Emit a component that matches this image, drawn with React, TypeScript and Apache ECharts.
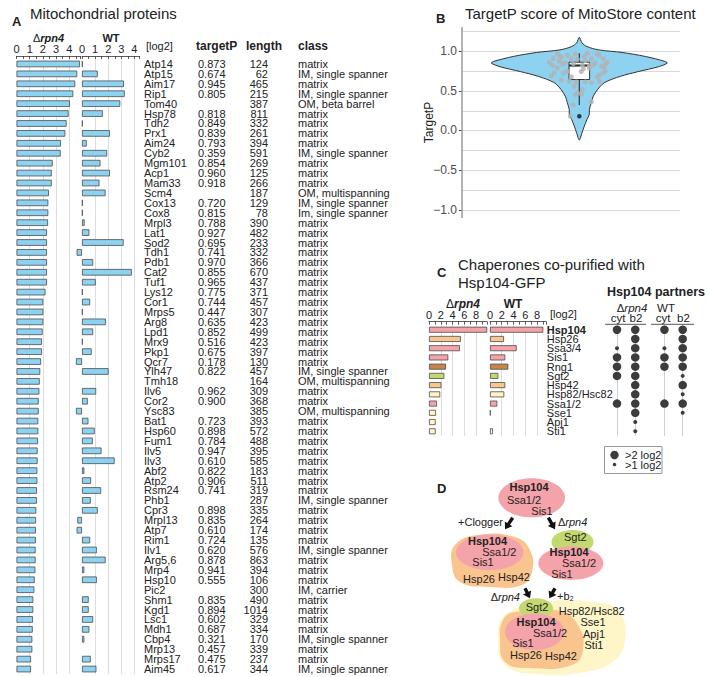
import React, { useEffect, useRef } from 'react';
import * as echarts from 'echarts';

const FONT = '"Liberation Sans", Arial, Helvetica, sans-serif';
const TEXT = '#222222';
const BLUE = '#8DD2F1';
const EDGE = '#4d4d4d';

// ---------- Panel A data ----------
const proteins = ['Atp14','Atp15','Aim17','Rip1','Tom40','Hsp78','Tdh2','Prx1','Aim24','Cyb2','Mgm101','Acp1','Mam33','Scm4','Cox13','Cox8','Mrpl3','Lat1','Sod2','Tdh1','Pdb1','Cat2','Tuf1','Lys12','Cor1','Mrps5','Arg8','Lpd1','Mrx9','Pkp1','Qcr7','Ylh47','Tmh18','Ilv6','Cor2','Ysc83','Bat1','Hsp60','Fum1','Ilv5','Ilv3','Abf2','Atp2','Rsm24','Phb1','Cpr3','Mrpl13','Atp7','Rim1','Ilv1','Arg5,6','Mrp4','Hsp10','Pic2','Shm1','Kgd1','Lsc1','Mdh1','Cbp4','Mrp13','Mrps17','Aim45'];
const rpn4Log2 = [4.81,4.6,4.45,4.3,4.05,3.95,3.8,3.7,3.37,3.35,2.74,2.67,2.67,2.46,2.41,2.41,2.39,2.31,2.31,2.31,2.31,2.31,2.31,2.2,2.03,2.03,2.03,1.98,1.93,1.93,1.86,1.8,1.76,1.73,1.68,1.68,1.65,1.65,1.63,1.6,1.6,1.58,1.58,1.55,1.55,1.5,1.48,1.47,1.46,1.45,1.45,1.43,1.38,1.35,1.27,1.27,1.25,1.23,1.2,1.2,1.1,1.1];
const wtLog2 = [0.05,1.2,3.2,3.26,2.92,1.59,0.05,2.13,0.36,1.92,1.41,2.13,1.33,1.8,0.05,0.05,0.2,0.56,3.18,-0.41,0.85,3.8,1.05,0.05,0.62,0.05,1.82,0.85,0.05,0.74,-0.46,2.03,null,1.08,0.44,-0.46,0.49,0.97,0.82,1.49,2.49,0.18,0.69,1.46,0.67,1.2,-0.36,-0.41,0.62,1.13,1.8,0.18,1.13,null,0.51,0.51,0.85,0.56,0.18,null,0.67,1.1];
const targetP = [0.873,0.674,0.945,0.805,null,0.818,0.849,0.839,0.793,0.359,0.854,0.960,0.918,null,0.720,0.815,0.788,0.927,0.695,0.741,0.970,0.855,0.965,0.775,0.744,0.447,0.635,0.852,0.516,0.675,0.178,0.822,null,0.962,0.900,null,0.723,0.898,0.784,0.947,0.610,0.822,0.906,0.741,null,0.898,0.835,0.610,0.724,0.620,0.878,0.941,0.555,null,0.835,0.894,0.602,0.687,0.321,0.457,0.475,0.617];
const proteinLength = [124,62,465,215,387,811,332,261,394,591,269,125,266,187,129,78,390,482,233,332,366,670,437,371,457,307,423,499,423,397,130,457,164,309,368,385,393,572,488,395,585,183,511,319,287,335,264,174,135,576,863,394,106,300,490,1014,329,334,170,339,237,344];
const M = 'matrix';
const S = 'IM, single spanner';
const OMM = 'OM, multispanning';
const proteinClass = [M,S,M,S,'OM, beta barrel',M,M,M,M,S,M,M,M,OMM,S,'Im, single spanner',
  M,M,M,M,M,M,M,M,M,M,M,M,M,M,M,S,OMM,M,M,OMM,M,M,M,M,M,M,M,M,S,M,M,M,M,S,M,M,M,'IM, carrier',M,M,M,M,S,M,M,S];
// horizontal jitter of the points in panel B (one per protein)
const jitterX = [-20,-8,-12,22,null,-27,16,-6,25,12,28,-4,-18,null,-16,10,-22,5,20,-12,8,-30,-22,4,26,-4,-18,-14,3,18,-9,14,null,18,24,null,-25,-8,10,20,-3,3,-26,2,null,12,-17,6,24,-10,6,-20,-5,null,26,-2,12,-28,-6,2,-2,20];
const aGridValues = [1, 2, 3, 4];

// ---------- Panel B data ----------
const violinY = [1.17,1.10,1.054,1.0125,0.98,0.93,0.866,0.846,0.80,0.74,0.68,0.60,0.51,0.43,0.35,0.26,0.20,0.14,0.054,-0.03,-0.12];
const violinHalfWidth = [0,2.7,7.7,19.3,42.7,66,86,88,79,59,41,25,18,14,12,10,10,7.7,5,2.7,0];
const boxStats = [0.321, 0.64, 0.816, 0.858, 0.97];
const outlierValues = [0.178];
const bGridValues = [-1,-0.75,-0.5,-0.25,0,0.25,0.5,0.75,1,1.25];
const bTickValues = [-1,-0.5,0,0.5,1];
const bTickLabels = ['\u22121.0','\u22120.5','0.0','0.5','1.0'];

// ---------- Panel C data ----------
const chaperones = ['Hsp104','Hsp26','Ssa3/4','Sis1','Rng1','Sgt2','Hsp42','Hsp82/Hsc82','Ssa1/2','Sse1','Apj1','Sti1'];
const chapRpn4 = [9.9,5.4,5.25,3.27,2.88,2.6,2.1,1.9,1.36,1.19,1.13,1.13];
const chapWT = [9.07,2.38,4.54,2.6,3.12,1.42,2.6,2.43,1.25,0.1,null,0.5];
const chapGroup = ['hsp70','shsp','hsp70','hsp70','rng','sgt','shsp','hsp90','hsp70','hsp90','hsp90','hsp90'];
const groupColor: Record<string,string> = { hsp70: '#F5A3AA', shsp: '#F9C68F', rng: '#C8854A', sgt: '#C2D96F', hsp90: '#FFF5C4' };
const cGridValues = [2, 4, 6, 8];
const partnerRpn4Cyt = [2,0,1,2,2,2,0,0,2,0,0,0];
const partnerRpn4B2 = [2,2,2,2,2,2,2,2,2,2,1,1];
const partnerWtCyt = [2,0,1,2,2,0,0,0,2,0,0,0];
const partnerWtB2 = [2,2,2,2,2,1,2,1,2,1,0,0];
const partnerColumns = [partnerRpn4Cyt, partnerRpn4B2, partnerWtCyt, partnerWtB2];
const PARTNER_X = [0, 1, 2.6, 3.6];

function txt(x: number, y: number, text: string, o: any = {}) {
  const size = o.size ?? 11;
  return {
    type: 'text', x, y, silent: true,
    style: {
      text, fontFamily: FONT, fontSize: size, lineHeight: o.lh ?? size,
      fontWeight: o.bold ? 'bold' : 'normal', fontStyle: o.italic ? 'italic' : 'normal',
      fill: o.color ?? TEXT, align: o.align ?? 'left', textAlign: o.align ?? 'left',
      verticalAlign: 'middle', textVerticalAlign: 'middle', rich: o.rich,
    },
  };
}
function deltaRich(size: number, boldItalic: boolean) {
  return {
    d: { fontFamily: FONT, fontSize: size, lineHeight: size, fill: TEXT },
    i: { fontFamily: FONT, fontSize: size, lineHeight: size, fill: TEXT, fontStyle: 'italic', fontWeight: boldItalic ? 'bold' : 'normal' },
  };
}
function arrow(x1: number, y1: number, x2: number, y2: number) {
  const dx = x2 - x1, dy = y2 - y1;
  const L = Math.sqrt(dx * dx + dy * dy);
  const ux = dx / L, uy = dy / L, px = -uy, py = ux;
  const h = 6.5, hw = 4.5, sw = 1.7;
  const nx = x2 - ux * h, ny = y2 - uy * h;
  const pts = [
    [x1 + px * sw, y1 + py * sw], [nx + px * sw, ny + py * sw], [nx + px * hw, ny + py * hw],
    [x2, y2], [nx - px * hw, ny - py * hw], [nx - px * sw, ny - py * sw], [x1 - px * sw, y1 - py * sw],
  ];
  return { type: 'polygon', silent: true, shape: { points: pts }, style: { fill: '#111' } };
}
const ell = (cx: number, cy: number, rx: number, ry: number, fill: string) =>
  ({ type: 'ellipse', silent: true, shape: { cx, cy, rx, ry }, style: { fill } });
const blob = (points: number[][], fill: string) =>
  ({ type: 'polygon', silent: true, shape: { points, smooth: 0.45 }, style: { fill } });

const gridLineMark = (key: 'xAxis' | 'yAxis', values: number[], color: string) => ({
  silent: true, symbol: 'none', z: 1, animation: false,
  label: { show: false }, emphasis: { disabled: true },
  lineStyle: { color, width: 1, type: 'solid' },
  data: values.map((v) => ({ [key]: v })),
});

export default function App() {
  const ref = useRef<HTMLDivElement>(null);
  useEffect(() => {
    if (!ref.current) return;
    const chart = echarts.init(ref.current, null, { renderer: 'svg' });
    const baseGrid = { containLabel: false, outerBoundsMode: 'none' };
    const axisLbl = { fontFamily: FONT, fontSize: 11, color: TEXT, lineHeight: 9.5 };
    const intOnly = (max: number) => (v: number) =>
      Math.abs(v - Math.round(v)) < 1e-6 && v <= max + 1e-6 ? String(Math.round(v)) : '';
    const evenOnly = (v: number) =>
      Math.abs(v - Math.round(v)) < 1e-6 && Math.round(v) % 2 === 0 && v <= 8 ? String(Math.round(v)) : '';
    const topAxis = (gridIndex: number, min: number, max: number, interval: number, fmt: any, offset: number) => ({
      type: 'value', gridIndex, min, max, interval, position: 'top', offset,
      axisLine: { show: true, onZero: false, lineStyle: { color: '#333', width: 0.8 } },
      axisTick: { show: true, inside: true, length: 3, lineStyle: { color: '#333', width: 0.8 } },
      axisLabel: { ...axisLbl, lineHeight: 10, margin: 2, formatter: fmt },
      splitLine: { show: false },
    });
    const hiddenVal = (gridIndex: number, min: number, max: number) => ({
      type: 'value', gridIndex, min, max, show: false, axisLine: { onZero: false }, splitLine: { show: false },
    });
    const hiddenCat = (gridIndex: number, data: string[]) => ({
      type: 'category', gridIndex, data, inverse: true, show: false, axisLine: { onZero: false },
    });
    const idx = (v: string) => proteins.indexOf(v);
    const colAxis = (offset: number, margin: number, align: string, fmt: any) => ({
      type: 'category', gridIndex: 1, data: proteins, inverse: true, position: 'right', offset,
      axisLine: { show: false, onZero: false }, axisTick: { show: false }, splitLine: { show: false },
      axisLabel: { ...axisLbl, show: true, interval: 0, margin, align, formatter: fmt },
    });

    const bPoints: number[][] = [];
    targetP.forEach((t, i) => { if (t != null && jitterX[i] != null) bPoints.push([jitterX[i] as number, t]); });

    const dots: any[] = [];
    partnerColumns.forEach((col, c) => col.forEach((lvl, r) => { if (lvl > 0) dots.push([PARTNER_X[c], chaperones[r], lvl]); }));

    const graphic: any[] = [
      // Panel A
      txt(12, 21, 'A', { bold: true, size: 13 }),
      txt(30, 13, 'Mitochondrial proteins', { size: 15 }),
      txt(48.5, 38, '{d|Δ}{i|rpn4}', { align: 'center', rich: deltaRich(11, true) }),
      txt(111, 38, 'WT', { bold: true, align: 'center' }),
      txt(146, 46, '[log2]'),
      txt(196, 46, 'targetP', { bold: true, size: 12 }),
      txt(246, 46, 'length', { bold: true, size: 12 }),
      txt(298, 46, 'class', { bold: true, size: 12 }),
      // Panel B
      txt(436, 18, 'B', { bold: true, size: 13 }),
      txt(465, 13, 'TargetP score of MitoStore content', { size: 15 }),
      // Panel C
      txt(437, 272, 'C', { bold: true, size: 13 }),
      txt(458, 264, 'Chaperones co-purified with', { size: 15 }),
      txt(458, 282, 'Hsp104-GFP', { size: 15 }),
      txt(463, 303.5, '{d|Δ}{i|rpn4}', { align: 'center', rich: deltaRich(12, true) }),
      txt(513, 303.5, 'WT', { bold: true, size: 12, align: 'center' }),
      txt(550, 314, '[log2]', { lh: 10 }),
      txt(607, 292, 'Hsp104 partners', { bold: true, size: 12.5 }),
      txt(632, 308, '{d|Δ}{i|rpn4}', { align: 'center', rich: deltaRich(11.5, false) }),
      txt(666, 308, 'WT', { size: 11.5, align: 'center' }),
      txt(618, 317.5, 'cyt', { size: 11.5, lh: 9, align: 'center' }),
      txt(636, 317.5, 'b2', { size: 11.5, lh: 9, align: 'center' }),
      txt(663, 317.5, 'cyt', { size: 11.5, lh: 9, align: 'center' }),
      txt(683.5, 317.5, 'b2', { size: 11.5, lh: 9, align: 'center' }),
      { type: 'line', silent: true, shape: { x1: 605, y1: 324.3, x2: 646, y2: 324.3 }, style: { stroke: '#555', lineWidth: 1 } },
      { type: 'line', silent: true, shape: { x1: 651, y1: 324.3, x2: 694, y2: 324.3 }, style: { stroke: '#555', lineWidth: 1 } },
      { type: 'rect', silent: true, shape: { x: 604.5, y: 446.5, width: 57.5, height: 27 }, style: { fill: '#fff', stroke: '#999', lineWidth: 1 } },
      { type: 'circle', silent: true, shape: { cx: 614.5, cy: 455, r: 4.2 }, style: { fill: '#3c3c3c' } },
      { type: 'circle', silent: true, shape: { cx: 614.5, cy: 464.5, r: 1.8 }, style: { fill: '#3c3c3c' } },
      txt(625, 455, '>2 log2', { size: 11, lh: 9.5 }),
      txt(625, 465, '>1 log2', { size: 11, lh: 9.5 }),
      // Panel D
      txt(437, 488, 'D', { bold: true, size: 13 }),
      ell(531.7, 497.8, 33.3, 19.5, '#F5A3AA'),
      blob([[478,535],[515,537],[530,550],[532,572],[522,585],[490,587],[460,582],[452,565],[455,545]], '#F9C48E'),
      ell(489.7, 552.2, 33.7, 17.8, '#F5A3AA'),
      ell(572.5, 542, 21, 12, '#C2D96F'),
      ell(570.8, 563.3, 32.5, 16.7, '#F5A3AA'),
      blob([[545,602],[600,603],[620,612],[625,640],[615,660],[585,672],[535,674],[505,665],[498,640],[505,615]], '#FEF5C8'),
      blob([[515,612],[560,611],[578,625],[583,650],[572,665],[530,668],[505,662],[500,640],[503,620]], '#F9C48E'),
      ell(536, 608.3, 17, 10, '#C2D96F'),
      ell(534.5, 631.7, 29.5, 18.3, '#F5A3AA'),
      arrow(512.7, 517.7, 505, 529.3),
      arrow(548.3, 517.7, 555, 529.3),
      arrow(525, 588.3, 530, 598.3),
      arrow(555, 588.3, 549.3, 598.3),
      txt(503, 521.7, '+Clogger', { align: 'right' }),
      txt(558, 521.7, '{d|Δ}{i|rpn4}', { rich: deltaRich(11, false) }),
      txt(520, 597, '{d|Δ}{i|rpn4}', { align: 'right', rich: deltaRich(11, false) }),
      txt(557, 596, '+b₂'),
      txt(529, 487.3, 'Hsp104', { bold: true, align: 'center' }),
      txt(524, 499.5, 'Ssa1/2', { align: 'center' }),
      txt(542, 511, 'Sis1', { align: 'center' }),
      txt(487.5, 540.7, 'Hsp104', { bold: true, align: 'center' }),
      txt(499.3, 551.5, 'Ssa1/2', { align: 'center' }),
      txt(483, 562, 'Sis1', { align: 'center' }),
      txt(479, 579.3, 'Hsp26', { align: 'center' }),
      txt(514, 577.3, 'Hsp42', { align: 'center' }),
      txt(575.3, 536.7, 'Sgt2', { align: 'center' }),
      txt(569, 551.7, 'Hsp104', { bold: true, align: 'center' }),
      txt(579, 563.3, 'Ssa1/2', { align: 'center' }),
      txt(562, 574, 'Sis1', { align: 'center' }),
      txt(537, 606.7, 'Sgt2', { align: 'center' }),
      txt(536, 621.7, 'Hsp104', { bold: true, align: 'center' }),
      txt(550, 633.3, 'Ssa1/2', { align: 'center' }),
      txt(523, 642.7, 'Sis1', { align: 'center' }),
      txt(526, 655, 'Hsp26', { align: 'center' }),
      txt(561, 656, 'Hsp42', { align: 'center' }),
      txt(591.7, 610.7, 'Hsp82/Hsc82', { align: 'center' }),
      txt(593, 622.3, 'Sse1', { align: 'center' }),
      txt(594, 634, 'Apj1', { align: 'center' }),
      txt(594, 645, 'Sti1', { align: 'center' }),
    ];

    const option: any = {
      animation: false,
      backgroundColor: '#ffffff',
      textStyle: { fontFamily: FONT },
      grid: [
        { ...baseGrid, left: 16.5, top: 59, width: 64, height: 615 },
        { ...baseGrid, left: 75.45, top: 59, width: 64.2, height: 615 },
        { ...baseGrid, left: 82, top: 59, width: 57.64, height: 615 },
        { ...baseGrid, left: 462, top: 27, width: 218, height: 191 },
        { ...baseGrid, left: 429, top: 325.1, width: 57.8, height: 110.8 },
        { ...baseGrid, left: 490, top: 325.1, width: 55.8, height: 110.8 },
        { ...baseGrid, left: 617, top: 325.1, width: 65.7, height: 110.8 },
      ],
      xAxis: [
        topAxis(0, 0, 4.85, 0.5, intOnly(4), 3),
        hiddenVal(1, -0.5, 4.4),
        topAxis(2, 0, 4.4, 0.5, intOnly(4), 3),
        hiddenVal(3, -117.3, 100.7),
        topAxis(4, 0, 9.8, 1, evenOnly, 3.4),
        topAxis(5, 0, 9.5, 1, evenOnly, 3.4),
        hiddenVal(6, 0, 3.6),
      ],
      yAxis: [
        hiddenCat(0, proteins),
        colAxis(0, 4.35, 'left', (v: string) => v),
        colAxis(58.35, 0, 'left', (v: string) => { const t = targetP[idx(v)]; return t == null ? '' : t.toFixed(3); }),
        colAxis(128.35, 0, 'right', (v: string) => String(proteinLength[idx(v)])),
        colAxis(158.35, 0, 'left', (v: string) => proteinClass[idx(v)]),
        hiddenCat(2, proteins),
        hiddenVal(3, -1.1, 1.3),
        hiddenCat(4, chaperones),
        {
          type: 'category', gridIndex: 5, data: chaperones, inverse: true, position: 'right', offset: 0,
          axisLine: { show: false, onZero: false }, axisTick: { show: false },
          axisLabel: {
            ...axisLbl, lineHeight: 9, interval: 0, margin: 1,
            formatter: (v: string) => (v === 'Hsp104' ? '{b|' + v + '}' : v),
            rich: { b: { fontFamily: FONT, fontSize: 11, lineHeight: 9, fontWeight: 'bold', color: TEXT } },
          },
        },
        hiddenCat(6, chaperones),
      ],
      series: [
        {
          type: 'bar', xAxisIndex: 0, yAxisIndex: 0, data: rpn4Log2, barWidth: 6.6,
          itemStyle: { color: BLUE, borderColor: EDGE, borderWidth: 0.8 },
          markLine: gridLineMark('xAxis', aGridValues, '#dddddd'),
        },
        {
          type: 'bar', xAxisIndex: 1, yAxisIndex: 1, data: wtLog2, barWidth: 6.6,
          itemStyle: { color: BLUE, borderColor: EDGE, borderWidth: 0.8 },
          markLine: gridLineMark('xAxis', aGridValues, '#dddddd'),
        },
        {
          // panel B axis: line, grid lines, ticks, tick labels and name, all through the axis scale
          type: 'custom', xAxisIndex: 3, yAxisIndex: 6, data: [[0, 0]], z: 1, silent: true, clip: false,
          renderItem: (_p: any, api: any) => {
            const xl = api.coord([-117.3, 0])[0];
            const xr = api.coord([100.7, 0])[0];
            const yt = api.coord([0, 1.3])[1];
            const yb = api.coord([0, -1.1])[1];
            const lines = bGridValues.map((g) => {
              const y = Math.round(api.coord([0, g])[1]) + 0.5;
              return { type: 'line', shape: { x1: xl, y1: y, x2: xr, y2: y }, style: { stroke: '#d9d9d9', lineWidth: 1 } };
            });
            const ticks = bTickValues.map((t) => {
              const y = Math.round(api.coord([0, t])[1]) + 0.5;
              return { type: 'line', shape: { x1: xl - 3, y1: y, x2: xl, y2: y }, style: { stroke: '#444', lineWidth: 1 } };
            });
            const labels = bTickValues.map((t, i) => ({
              type: 'text', x: xl - 5, y: api.coord([0, t])[1],
              style: { text: bTickLabels[i], fontFamily: FONT, fontSize: 12, fill: '#4d4d4d', align: 'right', verticalAlign: 'middle' },
            }));
            const name = {
              type: 'text', x: xl - 33, y: (yt + yb) / 2, rotation: Math.PI / 2,
              style: { text: 'TargetP', fontFamily: FONT, fontSize: 12, fill: TEXT, align: 'center', verticalAlign: 'middle' },
            };
            const axis = { type: 'line', shape: { x1: xl, y1: yt, x2: xl, y2: yb }, style: { stroke: '#9a9a9a', lineWidth: 1.5 } };
            return { type: 'group', children: [...lines, ...ticks, axis, ...labels, name] };
          },
        },
        {
          type: 'custom', xAxisIndex: 3, yAxisIndex: 6, data: [[0, 0]], z: 2, silent: true,
          renderItem: (_p: any, api: any) => {
            const left = violinY.map((y, i) => api.coord([-violinHalfWidth[i], y]));
            const right = violinY.slice(1, -1).map((y, i) => api.coord([violinHalfWidth[i + 1], y])).reverse();
            return {
              type: 'polygon', shape: { points: left.concat(right), smooth: 0.3 },
              style: { fill: BLUE, stroke: '#333', lineWidth: 1 },
            };
          },
        },
        {
          type: 'custom', xAxisIndex: 3, yAxisIndex: 6, data: [[0, boxStats[2]]], z: 3, silent: true,
          renderItem: (_p: any, api: any) => {
            const [mn, q1, md, q3, mx] = boxStats;
            const hw = 10.3;
            const c = (x: number, y: number) => api.coord([x, y]);
            const tl = c(-hw, q3), br = c(hw, q1);
            const ln = (a: number[], b: number[], w: number) => ({
              type: 'line', shape: { x1: a[0], y1: a[1], x2: b[0], y2: b[1] }, style: { stroke: '#333', lineWidth: w },
            });
            return {
              type: 'group',
              children: [
                ln(c(0, mx), c(0, q3), 1.2),
                ln(c(0, q1), c(0, mn), 1.2),
                { type: 'rect', shape: { x: tl[0], y: tl[1], width: br[0] - tl[0], height: br[1] - tl[1] }, style: { fill: '#fff', stroke: '#333', lineWidth: 1 } },
                ln(c(-hw, md), c(hw, md), 2.2),
              ],
            };
          },
        },
        {
          type: 'scatter', xAxisIndex: 3, yAxisIndex: 6, data: outlierValues.map((v) => [0, v]), z: 3,
          symbolSize: 4.5, itemStyle: { color: '#111' }, silent: true,
        },
        {
          type: 'scatter', xAxisIndex: 3, yAxisIndex: 6, data: bPoints, z: 4,
          symbolSize: 5, itemStyle: { color: '#b3b3b3', opacity: 0.85 }, silent: true,
        },
        {
          type: 'bar', xAxisIndex: 4, yAxisIndex: 7, barWidth: 6,
          data: chapRpn4.map((v, i) => ({ value: v, itemStyle: { color: groupColor[chapGroup[i]] } })),
          itemStyle: { borderColor: EDGE, borderWidth: 0.8 },
          markLine: gridLineMark('xAxis', cGridValues, '#dddddd'),
        },
        {
          type: 'bar', xAxisIndex: 5, yAxisIndex: 8, barWidth: 6,
          data: chapWT.map((v, i) => ({ value: v, itemStyle: { color: groupColor[chapGroup[i]] } })),
          itemStyle: { borderColor: EDGE, borderWidth: 0.8 },
          markLine: gridLineMark('xAxis', cGridValues, '#dddddd'),
        },
        {
          type: 'scatter', xAxisIndex: 6, yAxisIndex: 9, data: dots, z: 3, silent: true,
          symbolSize: (val: any) => (val[2] === 2 ? 8.5 : 4),
          itemStyle: { color: '#3c3c3c', opacity: 1 },
          markLine: gridLineMark('xAxis', PARTNER_X, '#d0d0d0'),
        },
      ],
      graphic: { elements: graphic },
    };
    chart.setOption(option);
    return () => chart.dispose();
  }, []);
  return <div ref={ref} style={{ position: 'absolute', left: 0, top: 0, width: 709, height: 677 }} />;
}
